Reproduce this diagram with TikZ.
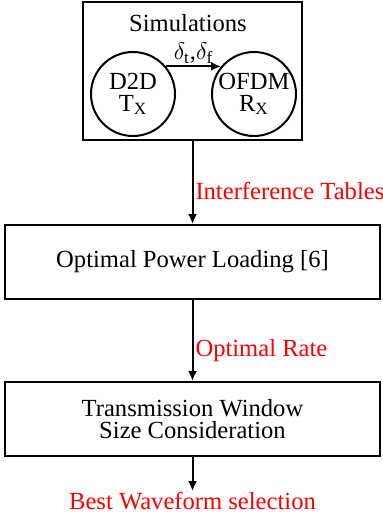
\documentclass[tikz,border=0pt]{standalone}
\usepackage{fontspec}
\setmainfont{Liberation Serif}
\usepackage{xcolor}
\usepackage{tikz}
\usetikzlibrary{arrows.meta,positioning}

\begin{document}
\begin{tikzpicture}[
    simbox/.style={draw, line width=1pt, minimum width=109.5pt, minimum height=69pt},
    circ/.style={circle, draw, line width=1pt, minimum size=42pt, inner sep=0pt, align=center, font=\fontsize{12.3}{11}\selectfont},
    procbox/.style={draw, line width=1pt, minimum width=187.5pt, minimum height=37pt, align=center, font=\fontsize{12.3}{11}\selectfont},
    arrow/.style={-{Latex[length=5pt,width=4.5pt]}, line width=1pt},
    redlabel/.style={red, font=\fontsize{12.3}{13}\selectfont, inner sep=0pt}
]
\useasboundingbox (0pt,0pt) rectangle (191.5pt,-257pt);

% simulation block
\node[simbox] (sim) at (96.25pt,-35.5pt) {};
\node[font=\fontsize{12.3}{13}\selectfont] (simlabel) at (94pt,-11.5pt) {Simulations};
\node[circ] (d2d) at (66.5pt,-47pt) {D2D\\T\textsubscript{X}};
\node[circ, right=17.5pt of d2d] (ofdm) {OFDM\\R\textsubscript{X}};
\draw[arrow] (d2d.40) -- node[above, inner sep=1pt, font=\fontsize{12.3}{13}\selectfont] {$\delta_{\mathrm{t}}$,$\delta_{\mathrm{f}}$} (ofdm.140);

% processing chain
\node[procbox, below=41.5pt of sim] (opl) {Optimal Power Loading [6]};
\node[procbox, below=40.5pt of opl] (tws) {Transmission Window\\Size Consideration};
\coordinate[below=17pt of tws] (out);

\draw[arrow] (sim) -- node[redlabel, right=1pt, pos=0.6] {Interference Tables} (opl);
\draw[arrow] (opl) -- node[redlabel, right=1pt, pos=0.62] {Optimal Rate} (tws);
\draw[arrow] (tws) -- (out);
\node[redlabel, below=0.5pt of out] (best) {Best Waveform selection};
\end{tikzpicture}
\end{document}
